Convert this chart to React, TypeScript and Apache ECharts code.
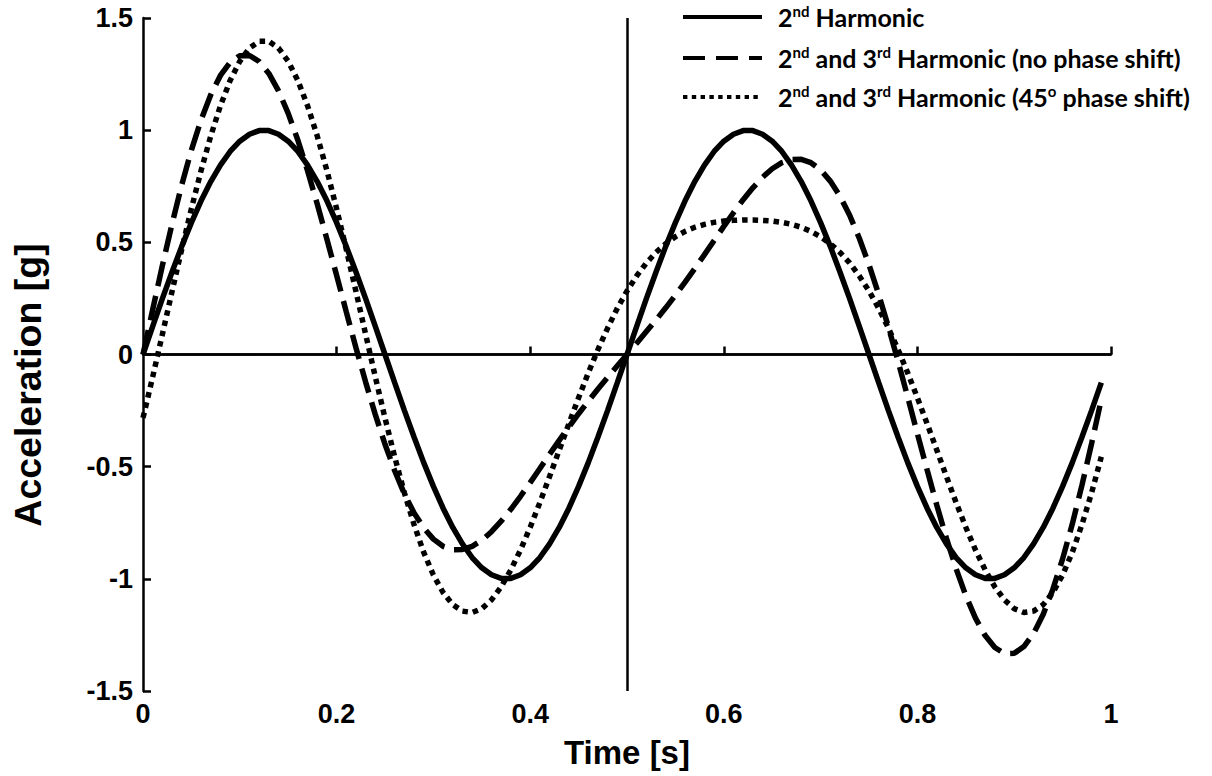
import React, { useEffect, useRef } from "react";
import * as echarts from "echarts";

const TIME = [
  0, 0.01, 0.02, 0.03, 0.04, 0.05, 0.06, 0.07, 0.08, 0.09,
  0.1, 0.11, 0.12, 0.13, 0.14, 0.15, 0.16, 0.17, 0.18, 0.19,
  0.2, 0.21, 0.22, 0.23, 0.24, 0.25, 0.26, 0.27, 0.28, 0.29,
  0.3, 0.31, 0.32, 0.33, 0.34, 0.35, 0.36, 0.37, 0.38, 0.39,
  0.4, 0.41, 0.42, 0.43, 0.44, 0.45, 0.46, 0.47, 0.48, 0.49,
  0.5, 0.51, 0.52, 0.53, 0.54, 0.55, 0.56, 0.57, 0.58, 0.59,
  0.6, 0.61, 0.62, 0.63, 0.64, 0.65, 0.66, 0.67, 0.68, 0.69,
  0.7, 0.71, 0.72, 0.73, 0.74, 0.75, 0.76, 0.77, 0.78, 0.79,
  0.8, 0.81, 0.82, 0.83, 0.84, 0.85, 0.86, 0.87, 0.88, 0.89,
  0.9, 0.91, 0.92, 0.93, 0.94, 0.95, 0.96, 0.97, 0.98, 0.99,
];

// 2nd Harmonic
const SECOND = [
  0, 0.125, 0.249, 0.368, 0.482, 0.588, 0.685, 0.771, 0.844, 0.905,
  0.951, 0.982, 0.998, 0.998, 0.982, 0.951, 0.905, 0.844, 0.771, 0.685,
  0.588, 0.482, 0.368, 0.249, 0.125, 0, -0.125, -0.249, -0.368, -0.482,
  -0.588, -0.685, -0.771, -0.844, -0.905, -0.951, -0.982, -0.998, -0.998, -0.982,
  -0.951, -0.905, -0.844, -0.771, -0.685, -0.588, -0.482, -0.368, -0.249, -0.125,
  0, 0.125, 0.249, 0.368, 0.482, 0.588, 0.685, 0.771, 0.844, 0.905,
  0.951, 0.982, 0.998, 0.998, 0.982, 0.951, 0.905, 0.844, 0.771, 0.685,
  0.588, 0.482, 0.368, 0.249, 0.125, 0, -0.125, -0.249, -0.368, -0.482,
  -0.588, -0.685, -0.771, -0.844, -0.905, -0.951, -0.982, -0.998, -0.998, -0.982,
  -0.951, -0.905, -0.844, -0.771, -0.685, -0.588, -0.482, -0.368, -0.249, -0.125,
];

// 2nd and 3rd Harmonic (no phase shift)
const SECOND_THIRD = [
  0, 0.2, 0.396, 0.582, 0.756, 0.911, 1.046, 1.158, 1.244, 1.302,
  1.332, 1.333, 1.306, 1.253, 1.175, 1.075, 0.955, 0.819, 0.671, 0.514,
  0.353, 0.19, 0.03, -0.123, -0.268, -0.4, -0.518, -0.621, -0.706, -0.773,
  -0.823, -0.855, -0.87, -0.869, -0.855, -0.828, -0.79, -0.743, -0.69, -0.632,
  -0.571, -0.508, -0.445, -0.383, -0.323, -0.264, -0.208, -0.154, -0.102, -0.05,
  0, 0.05, 0.102, 0.154, 0.208, 0.264, 0.323, 0.383, 0.445, 0.508,
  0.571, 0.632, 0.69, 0.743, 0.79, 0.828, 0.855, 0.869, 0.87, 0.855,
  0.823, 0.773, 0.706, 0.621, 0.518, 0.4, 0.268, 0.123, -0.03, -0.19,
  -0.353, -0.514, -0.671, -0.819, -0.955, -1.075, -1.175, -1.253, -1.306, -1.333,
  -1.332, -1.302, -1.244, -1.158, -1.046, -0.911, -0.756, -0.582, -0.396, -0.2,
];

// 2nd and 3rd Harmonic (45° phase shift)
const SECOND_THIRD_45 = [
  -0.283, -0.1, 0.09, 0.281, 0.469, 0.65, 0.82, 0.974, 1.109, 1.221,
  1.307, 1.366, 1.396, 1.396, 1.366, 1.307, 1.221, 1.109, 0.974, 0.82,
  0.65, 0.469, 0.281, 0.09, -0.1, -0.283, -0.456, -0.616, -0.758, -0.882,
  -0.983, -1.061, -1.115, -1.144, -1.15, -1.133, -1.094, -1.036, -0.96, -0.871,
  -0.77, -0.66, -0.544, -0.426, -0.308, -0.193, -0.082, 0.022, 0.118, 0.206,
  0.283, 0.35, 0.408, 0.455, 0.494, 0.525, 0.549, 0.567, 0.58, 0.589,
  0.595, 0.598, 0.6, 0.6, 0.598, 0.595, 0.589, 0.58, 0.567, 0.549,
  0.525, 0.494, 0.455, 0.408, 0.35, 0.283, 0.206, 0.118, 0.022, -0.082,
  -0.193, -0.308, -0.426, -0.544, -0.66, -0.77, -0.871, -0.96, -1.036, -1.094,
  -1.133, -1.15, -1.144, -1.115, -1.061, -0.983, -0.882, -0.758, -0.616, -0.456,
];

const SERIES_NAMES = [
  "2nd Harmonic",
  "2nd and 3rd Harmonic (no phase shift)",
  "2nd and 3rd Harmonic (45o phase shift)",
];
const LEGEND_RICH = [
  "{t|2}{s|nd}{t| Harmonic}",
  "{t|2}{s|nd}{t| and 3}{s|rd}{t| Harmonic (no phase shift)}",
  "{t|2}{s|nd}{t| and 3}{s|rd}{t| Harmonic (45}{s|o}{t| phase shift)}",
];

const X_NAME = "Time [s]";
const Y_NAME = "Acceleration [g]";
const X_MIN = 0, X_MAX = 1, X_STEP = 0.2;
const Y_MIN = -1.5, Y_MAX = 1.5, Y_STEP = 0.5;
const REF_X = 0.5;
const REF_Y = 0;

const AXIS_FONT = '"Liberation Sans", Arial, sans-serif';
const LEGEND_FONT = 'Lato, "Open Sans", sans-serif';

const CURVE_DASH: (number[] | "solid")[] = ["solid", [25, 10], [5.5, 5]];
const LEGEND_DASH: (number[] | null)[] = [null, [22, 11], [4.4, 4.4]];

export default function App() {
  const ref = useRef<HTMLDivElement>(null);
  useEffect(() => {
    if (!ref.current) return;
    const chart = echarts.init(ref.current, undefined, { renderer: "svg" });
    const pairs = (ys: number[]) => TIME.map((t, i) => [t, ys[i]]);
    const axisCommon = {
      axisLine: { show: true, lineStyle: { color: "#000", width: 2.5 } },
      axisTick: { show: true, inside: true, length: 8, lineStyle: { color: "#000", width: 2.5 } },
      splitLine: { show: false },
      axisLabel: { color: "#000", fontSize: 27, fontWeight: "bold", fontFamily: AXIS_FONT },
    };
    const legendX0 = 683, legendX1 = 762, legendTextX = 778;
    const legendRows = [17, 58, 97];
    const legendGraphics: any[] = [];
    SERIES_NAMES.forEach((_, i) => {
      legendGraphics.push({
        type: "line",
        shape: { x1: legendX0, y1: legendRows[i], x2: legendX1, y2: legendRows[i] },
        style: { stroke: "#000", lineWidth: 4, lineDash: LEGEND_DASH[i] || undefined },
      });
      legendGraphics.push({
        type: "text",
        x: legendTextX,
        y: legendRows[i],
        style: {
          text: LEGEND_RICH[i],
          align: "left",
          verticalAlign: "middle",
          fill: "#000",
          rich: {
            t: { fontSize: 25, fontWeight: "bold", fontFamily: LEGEND_FONT, lineHeight: 28, fill: "#000" },
            s: { fontSize: 15, fontWeight: "bold", fontFamily: LEGEND_FONT, lineHeight: 15, verticalAlign: "top", fill: "#000" },
          },
        },
      });
    });
    chart.setOption({
      animation: false,
      backgroundColor: "#fff",
      grid: { left: 143, right: 101, top: 18, bottom: 85, containLabel: false, outerBoundsMode: "none" },
      xAxis: {
        type: "value",
        min: X_MIN,
        max: X_MAX,
        interval: X_STEP,
        name: X_NAME,
        nameLocation: "middle",
        nameGap: 45,
        nameTextStyle: { color: "#000", fontSize: 33, fontWeight: "bold", fontFamily: AXIS_FONT },
        ...axisCommon,
        axisLabel: { ...axisCommon.axisLabel, margin: 9 },
      },
      yAxis: {
        type: "value",
        min: Y_MIN,
        max: Y_MAX,
        interval: Y_STEP,
        ...axisCommon,
        axisLabel: { ...axisCommon.axisLabel, margin: 10 },
      },
      graphic: [
        {
          type: "text",
          x: 28,
          y: 385,
          rotation: Math.PI / 2,
          style: {
            text: Y_NAME,
            fontSize: 37.5,
            fontWeight: "bold",
            fontFamily: AXIS_FONT,
            fill: "#000",
            align: "center",
            verticalAlign: "middle",
          },
        },
        ...legendGraphics,
      ],
      series: [
        {
          type: "line",
          name: SERIES_NAMES[0],
          data: pairs(SECOND),
          symbol: "none",
          itemStyle: { color: "#000" },
          lineStyle: { color: "#000", width: 5.5, type: CURVE_DASH[0] },
          z: 3,
          markLine: {
            silent: true,
            symbol: ["none", "none"],
            label: { show: false },
            lineStyle: { color: "#000", width: 2.5, type: "solid" },
            data: [{ xAxis: REF_X }, { yAxis: REF_Y }],
          },
        },
        {
          type: "line",
          name: SERIES_NAMES[1],
          data: pairs(SECOND_THIRD),
          symbol: "none",
          itemStyle: { color: "#000" },
          lineStyle: { color: "#000", width: 5.5, type: CURVE_DASH[1] },
          z: 2,
        },
        {
          type: "line",
          name: SERIES_NAMES[2],
          data: pairs(SECOND_THIRD_45),
          symbol: "none",
          itemStyle: { color: "#000" },
          lineStyle: { color: "#000", width: 5.5, type: CURVE_DASH[2] },
          z: 2,
        },
      ],
    });
    return () => chart.dispose();
  }, []);
  return (
    <div
      ref={ref}
      style={{ position: "fixed", left: 0, top: 0, width: 1212, height: 776, background: "#fff" }}
    />
  );
}
